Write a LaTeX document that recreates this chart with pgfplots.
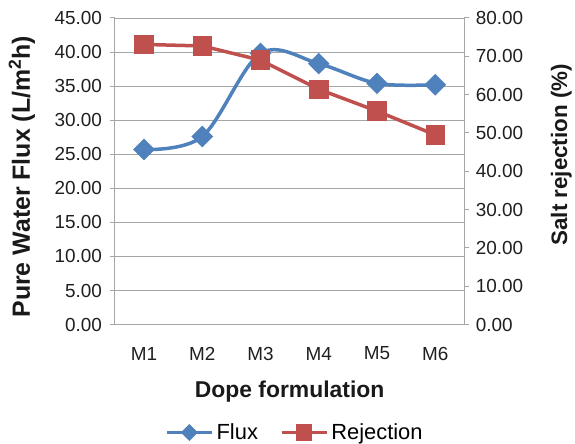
\documentclass[border=0pt]{standalone}
\usepackage{pgfplots}
\pgfplotsset{compat=1.18}
\usepackage{fontspec}
\setmainfont{Liberation Sans}
\definecolor{fluxblue}{HTML}{4F81BD}
\definecolor{rejred}{HTML}{C0504D}
\definecolor{axgray}{HTML}{A6A6A6}

\pgfplotstableread{
x flux rej
0 25.7 73.1
1 27.6 72.7
2 39.8 69.0
3 38.3 61.4
4 35.4 55.7
5 35.2 49.5
}\datatable

\pgfplotsset{
  base/.style={
    scale only axis, width=350bp, height=307bp,
    xmin=-0.5, xmax=5.5,
    tick label style={font=\fontsize{19}{21}\selectfont, color=black!88},
    label style={font=\fontsize{23}{26}\selectfont\bfseries, color=black!90},
    /pgf/number format/assume math mode=true,
    /pgf/number format/fixed, /pgf/number format/fixed zerofill,
    /pgf/number format/precision=2,
    axis line style={axgray, line width=1pt},
    major tick style={axgray, line width=1pt},
    tick align=outside, major tick length=5bp,
  },
  fluxstyle/.style={fluxblue, line width=3.5bp},
  rejstyle/.style={rejred, line width=3.5bp},
}

\begin{document}
\begin{tikzpicture}
\begin{axis}[base, name=main,
  axis y line*=left, axis x line*=bottom,
  ymin=0, ymax=45, ytick={0,5,...,45},
  yticklabel style={xshift=-4.5bp},
  xtick={0,...,5}, xticklabels={M1,M2,M3,M4,M5,M6},
  x tick style={draw=none},
  xticklabel style={anchor=center, yshift=-24bp},
  ymajorgrids, grid style={axgray, line width=0.8pt},
  xlabel={Dope formulation},
  xlabel style={at={(axis description cs:0.5,-0.2182)}, anchor=center},
  ylabel={Pure Water Flux (L/m\textsuperscript{2}h)},
  ylabel style={at={(axis description cs:-0.2657,0.482)}, anchor=center,
    font=\fontsize{25}{28}\selectfont\bfseries},
  legend style={at={(0.515,-0.352)}, anchor=center, draw=none,
    font=\fontsize{22}{25}\selectfont, legend columns=2,
    inner sep=0pt,
    /tikz/every odd column/.append style={column sep=1bp},
    /tikz/every even column/.append style={column sep=20bp}},
  legend image code/.code={
    \draw[#1, mark repeat=2, mark phase=2] plot coordinates {(0bp,0bp) (22.5bp,0bp) (45bp,0bp)};},
]
\addplot[fluxstyle, smooth, tension=0.55, forget plot,
  mark=square*, mark size=5.9bp, mark options={rotate=45, solid, fill=fluxblue}]
  table[x=x, y=flux] {\datatable};
\addlegendimage{fluxstyle, mark=square*, mark size=4.3bp, mark options={rotate=45, fill=fluxblue}}
\addlegendentry{Flux}
\addlegendimage{rejstyle, mark=square*, mark size=6.5bp, mark options={fill=rejred}}
\addlegendentry{Rejection}
\end{axis}
\begin{axis}[base,
  axis y line*=right, axis x line=none,
  ymin=0, ymax=80, ytick={0,10,...,80},
  yticklabel style={xshift=3bp},
  ylabel={Salt rejection (\%)},
  ylabel style={at={(axis description cs:1.277,0.554)}, anchor=center,
    font=\fontsize{22.5}{26}\selectfont\bfseries},
]
\addplot[rejstyle, mark=square*, mark size=8bp, mark options={fill=rejred}]
  table[x=x, y=rej] {\datatable};
\end{axis}
\path ([shift={(-115bp,-118bp)}]main.south west) rectangle ([shift={(110bp,18bp)}]main.north east);
\end{tikzpicture}
\end{document}
